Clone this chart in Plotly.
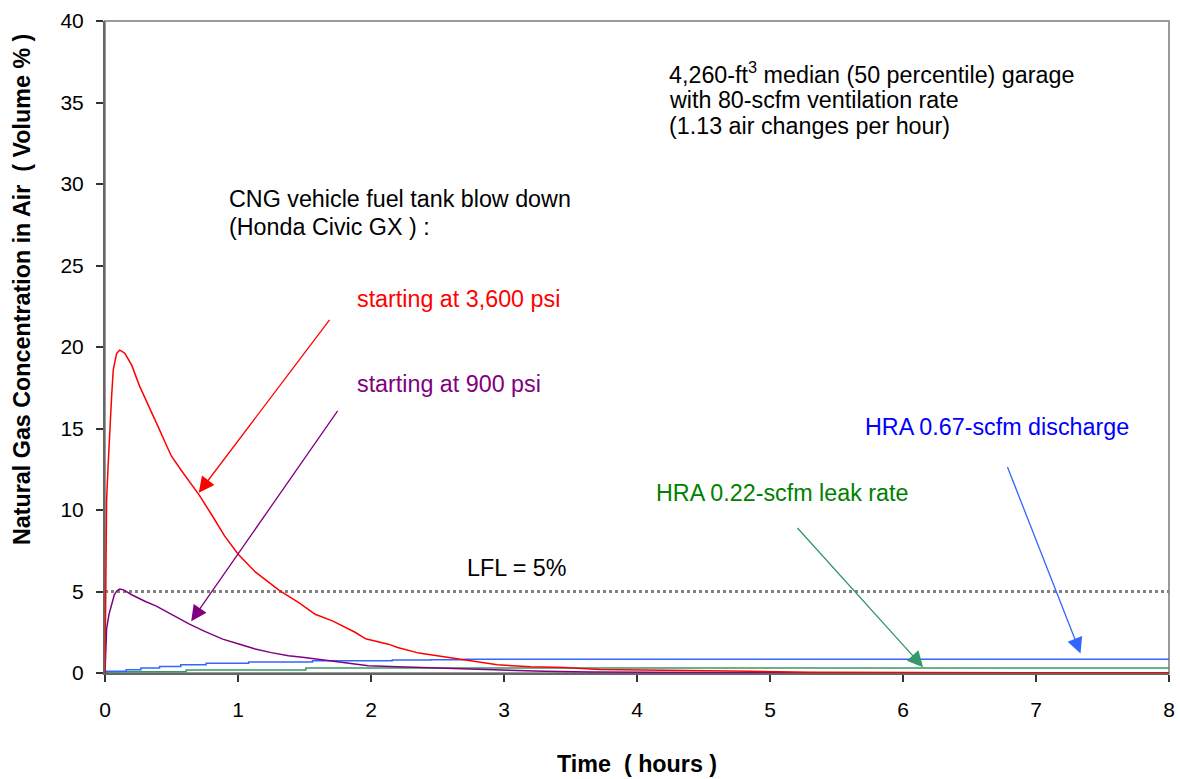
import plotly.graph_objects as go

# ---- data ----
red_t = [0, 0.005, 0.012, 0.025, 0.037, 0.05, 0.062, 0.075, 0.087, 0.11, 0.125, 0.15, 0.2, 0.26,
         0.336, 0.4, 0.46, 0.5, 0.585, 0.71, 0.81, 0.9, 1.0, 1.13, 1.31, 1.46, 1.58, 1.71, 1.88, 1.96,
         2.13, 2.2, 2.36, 2.58, 2.75, 2.95, 3.2, 3.45, 3.72, 4.0, 4.35, 4.85, 5.3, 6, 7, 8]
red_y = [0, 7, 10.6, 13, 15.3, 17, 18.6, 19.2, 19.6, 19.8, 19.75, 19.6, 18.9, 17.6,
         16.3, 15.1, 14.0, 13.3, 12.3, 10.9, 9.6, 8.4, 7.3, 6.2, 5.07, 4.3, 3.6, 3.2, 2.5, 2.1,
         1.77, 1.57, 1.22, 0.96, 0.75, 0.5, 0.38, 0.33, 0.22, 0.18, 0.14, 0.1, 0.05, 0.03, 0.02, 0.02]

purple_t = [0, 0.005, 0.012, 0.03, 0.05, 0.07, 0.09, 0.11, 0.14, 0.2, 0.3, 0.386, 0.5, 0.635, 0.75,
            0.885, 1.0, 1.13, 1.25, 1.38, 1.5, 1.63, 1.8, 1.98, 2.2, 2.36, 2.6, 2.98, 3.3, 3.65,
            4.0, 4.5, 5, 6, 7, 8]
purple_y = [0, 1.5, 2.7, 3.6, 4.3, 4.8, 5.05, 5.15, 5.1, 4.8, 4.4, 4.1, 3.6, 3.0, 2.55,
            2.08, 1.8, 1.47, 1.25, 1.06, 0.95, 0.81, 0.62, 0.45, 0.38, 0.34, 0.26, 0.14, 0.1, 0.06,
            0.04, 0.03, 0.02, 0.01, 0.01, 0.01]

blue_t = [0, 0.012, 0.16, 0.27, 0.41, 0.57, 0.76, 1.08, 1.56, 2.16, 2.45, 2.7, 8]
blue_y = [0, 0.1, 0.2, 0.3, 0.4, 0.5, 0.6, 0.67, 0.75, 0.8, 0.82, 0.85, 0.85]

green_t = [0, 0.1, 0.61, 1.51, 8]
green_y = [0, 0.08, 0.18, 0.3, 0.3]

lfl_t = [0, 8]
lfl_y = [5, 5]

x_ticks = [0, 1, 2, 3, 4, 5, 6, 7, 8]
y_ticks = [0, 5, 10, 15, 20, 25, 30, 35, 40]

FONT = "Arial, Liberation Sans, sans-serif"
FS = 23.3

fig = go.Figure()
fig.add_trace(go.Scatter(x=lfl_t, y=lfl_y, mode="lines",
                         line=dict(color="#808080", width=3, dash="dot")))
fig.add_trace(go.Scatter(x=green_t, y=green_y, mode="lines", line_shape="hv",
                         line=dict(color="#339966", width=1.5)))
fig.add_trace(go.Scatter(x=blue_t, y=blue_y, mode="lines", line_shape="hv",
                         line=dict(color="#3366FF", width=1.5)))
fig.add_trace(go.Scatter(x=purple_t, y=purple_y, mode="lines",
                         line=dict(color="#800080", width=1.5)))
fig.add_trace(go.Scatter(x=red_t, y=red_y, mode="lines",
                         line=dict(color="#FF0000", width=1.5)))

ann = []
def txt(x, y, s, color="black"):
    ann.append(dict(x=x, y=y, xref="x", yref="y", text=s, showarrow=False,
                    xanchor="left", yanchor="middle", align="left",
                    font=dict(family=FONT, size=FS, color=color)))

txt(4.224, 36.81, "4,260-ft<sup>3</sup> median (50 percentile) garage")
txt(4.224, 35.18, "with 80-scfm ventilation rate")
txt(4.224, 33.58, "(1.13 air changes per hour)")
txt(0.92, 29.11, "CNG vehicle fuel tank blow down")
txt(0.92, 27.35, "(Honda Civic GX ) :")
txt(1.882, 22.94, "starting at 3,600 psi", "#FF0000")
txt(1.882, 17.70, "starting at 900 psi", "#800080")
txt(5.70, 15.08, "HRA 0.67-scfm discharge", "#0000FF")
txt(4.125, 11.06, "HRA 0.22-scfm leak rate", "#008000")
txt(2.704, 6.47, "LFL = 5%")

def arrow(x, y, ax, ay, color):
    ann.append(dict(x=x, y=y, ax=ax, ay=ay, xref="x", yref="y", axref="x", ayref="y",
                    text="", showarrow=True, arrowhead=2, arrowsize=2.4, arrowwidth=1.3,
                    arrowcolor=color, standoff=0, startstandoff=0))

arrow(0.705, 11.06, 1.697, 21.75, "#FF0000")
arrow(0.648, 3.18, 1.757, 16.17, "#800080")
arrow(6.151, 0.36, 5.196, 8.99, "#339966")
arrow(7.335, 1.20, 6.781, 12.73, "#3366FF")

# axis titles
ann.append(dict(x=0.5, y=(673.5 - 765) / 652, xref="paper", yref="paper",
                text="<b>Time  ( hours )</b>", showarrow=False,
                xanchor="center", yanchor="middle",
                font=dict(family=FONT, size=FS, color="black")))
ann.append(dict(x=(21 - 105) / 1070, y=(673.5 - 290) / 652, xref="paper", yref="paper",
                text="<b>Natural Gas Concentration in Air  ( Volume % )</b>", showarrow=False,
                textangle=-90, xanchor="center", yanchor="middle",
                font=dict(family=FONT, size=FS, color="black")))

fig.update_layout(
    width=1180, height=779,
    margin=dict(l=105, r=5, t=21, b=106),
    paper_bgcolor="white", plot_bgcolor="white",
    showlegend=False,
    annotations=ann,
    shapes=[dict(type="rect", xref="paper", yref="paper", x0=0, y0=0, x1=1, y1=1,
                 line=dict(color="#9a9a9a", width=2), layer="below")],
    font=dict(family=FONT, size=21, color="black"),
)
fig.update_xaxes(range=[0, 8], tickvals=x_ticks, ticktext=[str(v) for v in x_ticks],
                 showgrid=False, zeroline=False, showline=True, linecolor="#666666",
                 linewidth=2, ticks="outside", ticklen=7, tickwidth=1.5, tickcolor="#333333",
                 tickfont=dict(family=FONT, size=21, color="black"), ticklabelstandoff=10,
                 ticklabeloverflow="allow")
fig.update_yaxes(range=[0, 40], tickvals=y_ticks, ticktext=[str(v) for v in y_ticks],
                 showgrid=False, zeroline=False, showline=True, linecolor="#666666",
                 linewidth=2, ticks="outside", ticklen=7, tickwidth=1.5, tickcolor="#333333",
                 tickfont=dict(family=FONT, size=21, color="black"), ticklabelstandoff=8,
                 ticklabeloverflow="allow")

fig.write_html("out.html")
